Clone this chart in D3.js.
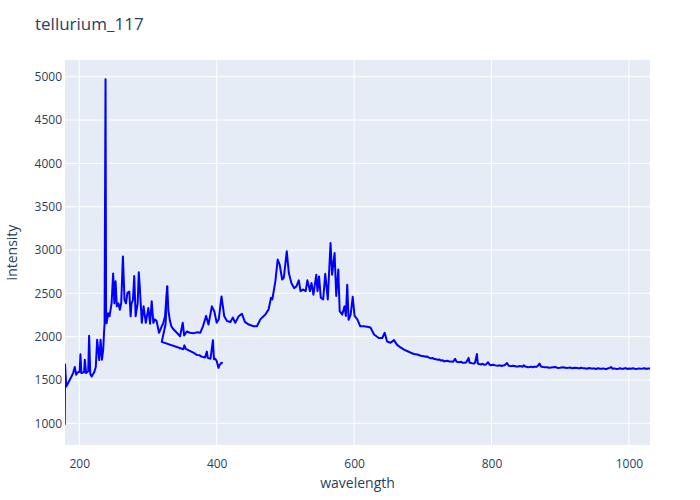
<!DOCTYPE html>
<html>
<head>
<meta charset="utf-8">
<script src="https://cdn.jsdelivr.net/npm/d3@7"></script>
<style>
  body { margin: 0; background: #fff; }
  svg { display: block; }
  text { font-family: "Open Sans", verdana, arial, sans-serif; fill: #2a3f5f; }
</style>
</head>
<body>
<svg id="chart" width="700" height="500"></svg>
<script>
// ---- data ----
const chartTitle = "tellurium_117";
const xLabel = "wavelength";
const yLabel = "intensity";
const xTicks = [200, 400, 600, 800, 1000];
const yTicks = [1000, 1500, 2000, 2500, 3000, 3500, 4000, 4500, 5000];

// main spectrum trace
const wavelengthA = [178.8,179.3,181,183.6,186,188.6,191,193.4,195.5,198,200.5,201.7,203,207,208,210,213,214.3,216,218,222,224,226,229,231,233,234.8,236,236.8,237.3,238.2,239,239.7,242,244,247,249.3,251,252.8,254.6,257,259,261,263.5,265.8,268,270,272.8,274.7,276,278,280,282,285,286.6,288,291,293.6,296.8,300.5,303,305.4,307.8,310,312.6,316,320,322,324.8,328,329.6,332,334,337,342,346.7,350.6,352.6,356.5,361,366,371,376,380,384.7,388,393,396.6,400,403,407,411,415,420,423.6,427,432,436.7,441,446.6,453.8,458.6,463.5,470.8,475.6,479,481,485.4,488.8,491.7,495.3,497.7,502,505,508.7,512.6,516,519.5,522,526,529.5,532,535.8,538,540.8,545,546.7,549,551.5,555,558,561.7,565.7,568,571.6,574,577,579,582.8,586,588,590,592,595,598,600.7,604.7,609,614,619,624,629,636,641,644.5,648,653,658,662.6,667,672.7,677,682.5,687,692,697,
701.5,704,706,709,711.7,714,716,719,721.3,724,726,729,731,734,736,739,741,744,747,749,752,754,756,758,760,763,766.7,768,770,772,774.5,776,778.8,780,782,785,787,789.5,792,795,797,799,802,804,807,809,812,814,817,819,822.6,825,828,831,833,836,838.7,841,843,845,847,849,851,853,855,858,860,862.6,865,867,870,872,875,878,881,884,887,890,893,896,900,903,906,909,911.6,914,918,921,925,928,930,933,935.7,939,942,945,950,952,955,958,960,963,966,969,972,974,976,979,982,984.7,987,990,993,995,998,1000,1003,1006,1008.5,1011,1014,1017,1020,1023,1025,1028,1030.7];
const intensityA = [985,1680,1425,1463,1500,1540,1580,1650,1560,1590,1595,1797,1580,1590,1735,1580,1600,2010,1570,1540,1595,1650,1965,1730,1965,1735,1850,2045,2150,3230,4970,2300,2155,2270,2235,2385,2730,2385,2640,2350,2385,2310,2385,2925,2425,2385,2505,2520,2235,2385,2420,2700,2235,2385,2745,2585,2160,2350,2160,2330,2150,2410,2160,2200,2180,2045,2120,2150,2235,2583,2310,2180,2120,2085,2045,2005,2160,2015,2060,2045,2040,2050,2045,2120,2240,2140,2350,2290,2160,2200,2465,2235,2180,2170,2220,2160,2235,2265,2170,2140,2120,2120,2200,2255,2315,2450,2430,2640,2890,2830,2660,2680,2985,2735,2620,2560,2580,2650,2525,2545,2525,2650,2525,2620,2485,2715,2525,2695,2450,2430,2725,2430,3080,2715,2965,2470,2775,2295,2255,2350,2240,2600,2195,2255,2460,2240,2200,2120,2120,2115,2105,2025,1985,1985,2045,1945,1930,1960,1905,1880,1850,1835,1815,1800,1795,1780,
1775,1768,1772,1758,1750,1755,1745,1740,1735,1738,1725,1728,1715,1720,1722,1712,1715,1710,1745,1712,1705,1708,1710,1698,1698,1702,1755,1700,1698,1692,1690,1700,1800,1690,1685,1680,1688,1675,1680,1705,1678,1670,1675,1672,1666,1665,1670,1662,1668,1670,1695,1665,1660,1664,1662,1656,1655,1661,1660,1652,1670,1655,1652,1648,1650,1654,1648,1655,1650,1660,1690,1655,1650,1646,1648,1642,1645,1648,1650,1640,1642,1646,1645,1638,1640,1644,1636,1641,1638,1634,1642,1637,1635,1630,1638,1633,1632,1627,1636,1629,1630,1634,1625,1632,1640,1650,1631,1634,1626,1630,1636,1628,1632,1638,1627,1632,1630,1635,1630,1626,1634,1629,1632,1636,1628,1633,1632];

// second (overlapping) segment
const wavelengthB = [328,326.5,325.5,320,351.5,353,355,360,366,371,375,378,383,385.7,387,391,394.5,396,398,400,402.6,404.5,407.7,405.5];
const intensityB = [2583,2300,2140,1940,1855,1900,1860,1840,1815,1790,1785,1770,1760,1828,1755,1745,1960,1740,1745,1720,1640,1680,1700,1695];

// ---- layout ----
const svg = d3.select("#chart");
const W = 700, H = 500;
const plot = { left: 65, right: 650, top: 60, bottom: 445 };

const x = d3.scaleLinear().domain([179.2, 1030.7]).range([plot.left, plot.right]);
const y = d3.scaleLinear().domain([750, 5193]).range([plot.bottom, plot.top]);

svg.append("rect").attr("width", W).attr("height", H).attr("fill", "#fff");
svg.append("rect")
  .attr("x", plot.left).attr("y", plot.top)
  .attr("width", plot.right - plot.left).attr("height", plot.bottom - plot.top)
  .attr("fill", "#E5ECF6");

// gridlines
svg.append("g").selectAll("line").data(xTicks).join("line")
  .attr("x1", d => x(d)).attr("x2", d => x(d))
  .attr("y1", plot.top).attr("y2", plot.bottom)
  .attr("stroke", "#fff").attr("stroke-width", 1);
svg.append("g").selectAll("line").data(yTicks).join("line")
  .attr("x1", plot.left).attr("x2", plot.right)
  .attr("y1", d => y(d)).attr("y2", d => y(d))
  .attr("stroke", "#fff").attr("stroke-width", 1);

// axes (labels only)
const xAxis = d3.axisBottom(x).tickValues(xTicks).tickSize(0).tickPadding(14).tickFormat(d3.format("d"));
const gx = svg.append("g").attr("transform", `translate(0,${plot.bottom})`).call(xAxis);
gx.select(".domain").remove();
gx.selectAll("text").attr("font-size", 12).attr("fill", "#2a3f5f").attr("font-family", '"Open Sans", verdana, arial, sans-serif');

const yAxis = d3.axisLeft(y).tickValues(yTicks).tickSize(0).tickPadding(3).tickFormat(d3.format("d"));
const gy = svg.append("g").attr("transform", `translate(${plot.left},0)`).call(yAxis);
gy.select(".domain").remove();
gy.selectAll("text").attr("font-size", 12).attr("fill", "#2a3f5f").attr("font-family", '"Open Sans", verdana, arial, sans-serif');

// lines
svg.append("clipPath").attr("id", "clip").append("rect")
  .attr("x", plot.left).attr("y", plot.top)
  .attr("width", plot.right - plot.left).attr("height", plot.bottom - plot.top);

const line = d3.line().x(d => x(d[0])).y(d => y(d[1]));
const seriesA = wavelengthA.map((w, i) => [w, intensityA[i]]);
const seriesB = wavelengthB.map((w, i) => [w, intensityB[i]]);

const lg = svg.append("g").attr("clip-path", "url(#clip)");
[seriesA, seriesB].forEach(s => {
  lg.append("path").datum(s).attr("d", line)
    .attr("fill", "none").attr("stroke", "#0000ff").attr("stroke-width", 2)
    .attr("stroke-linejoin", "round");
});

// titles
svg.append("text").attr("x", 35).attr("y", 30).attr("font-size", 17).text(chartTitle);
svg.append("text").attr("x", (plot.left + plot.right) / 2).attr("y", 488)
  .attr("text-anchor", "middle").attr("font-size", 14).text(xLabel);
svg.append("text").attr("transform", `translate(17,${(plot.top + plot.bottom) / 2}) rotate(-90)`)
  .attr("text-anchor", "middle").attr("font-size", 14).text(yLabel);
</script>
</body>
</html>
